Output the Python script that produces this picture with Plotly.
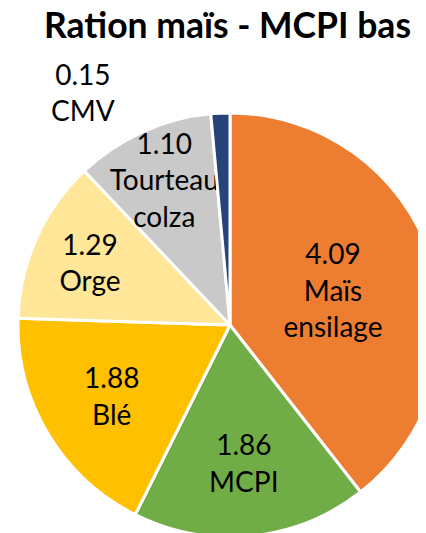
import plotly.graph_objects as go

labels = ["Maïs<br>ensilage", "MCPI", "Blé", "Orge", "Tourteau<br>colza", "CMV"]
values = [4.09, 1.86, 1.88, 1.29, 1.10, 0.15]
colors = ["#ED7D31", "#70AD47", "#FFC000", "#FFE699", "#C9C9C9", "#264478"]
title_text = "Ration maïs - MCPI bas"

W, H = 460, 533
positions = ["inside"] * (len(values) - 1) + ["none"]

fig = go.Figure(go.Pie(
    labels=labels,
    values=values,
    sort=False,
    direction="clockwise",
    rotation=0,
    marker=dict(colors=colors, line=dict(color="white", width=3)),
    texttemplate="%{value:.2f}<br>%{label}",
    textposition=positions,
    insidetextorientation="horizontal",
    textfont=dict(family="Lato", size=28, color="black"),
    showlegend=False,
    hoverinfo="label+value",
    domain=dict(x=[10 / W, 434 / W], y=[(H - 529) / H, (H - 105) / H]),
))

fig.add_annotation(
    text=f"{values[-1]:.2f}<br>{labels[-1]}",
    xref="paper", yref="paper", x=75 / W, y=1 - 84 / H,
    xanchor="center", yanchor="middle",
    showarrow=False, font=dict(family="Lato", size=28, color="black"),
    align="center",
)

fig.update_layout(
    width=W, height=H,
    margin=dict(l=0, r=0, t=0, b=0),
    paper_bgcolor="white",
    title=dict(text="<b>" + title_text + "</b>", x=219.5 / W, xanchor="center", y=1 - 5 / H, yanchor="top",
               font=dict(family="Lato", size=35.5, color="black")),
    uniformtext=dict(minsize=28, mode="show"),
)

fig.write_html("out.html")
